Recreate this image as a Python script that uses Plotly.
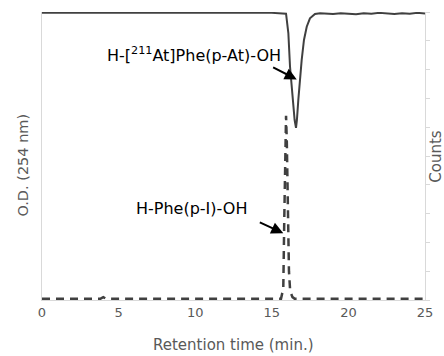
import plotly.graph_objects as go

# UV trace (O.D. 254 nm), normalised
uv_time = [0, 5, 10, 15, 15.93, 16.08, 16.19, 16.36, 16.49, 16.58, 16.64, 16.73, 16.84, 16.95,
           17.1, 17.28, 17.49, 17.82, 18.15, 18.5, 19, 19.5, 20, 20.5, 21, 21.5, 22, 22.5,
           23, 23.5, 24, 24.5, 25]
uv_od = [0.997, 0.997, 0.997, 0.997, 0.994, 0.927, 0.81, 0.694, 0.625, 0.598, 0.625, 0.694,
         0.775, 0.833, 0.903, 0.949, 0.978, 0.993, 0.996, 0.995, 0.993, 0.996, 0.994, 0.992,
         0.996, 0.994, 0.997, 0.995, 0.993, 0.996, 0.994, 0.997, 0.995]

# Radio trace (counts)
rad_time = [0, 3.8, 4.0, 4.2, 15.6, 15.75, 15.82, 15.88, 15.93, 15.98, 16.05, 16.12, 16.2,
            16.35, 16.5, 25]
rad_counts = [0.04, 0.04, 0.1, 0.04, 0.04, 0.4, 3.0, 5.6, 6.4, 5.5, 3.0, 1.0, 0.3, 0.1,
              0.04, 0.04]

x_ticks = [0, 5, 10, 15, 20, 25]

label_at = "H-[<sup>211</sup>At]Phe(p-At)-OH"
label_i = "H-Phe(p-I)-OH"

FONT = "DejaVu Sans"
GRAY = "#595959"
AXIS = "#d9d9d9"
LINE = "#404040"

fig = go.Figure()
fig.add_trace(go.Scatter(x=uv_time, y=uv_od, mode="lines",
                         line=dict(color=LINE, width=2), yaxis="y", showlegend=False))
fig.add_trace(go.Scatter(x=rad_time, y=rad_counts, mode="lines",
                         line=dict(color=LINE, width=2.5, dash="8px,6px"),
                         yaxis="y2", showlegend=False))

fig.update_layout(
    width=444, height=356,
    margin=dict(l=42, r=19, t=12, b=56),
    paper_bgcolor="white", plot_bgcolor="white",
    font=dict(family=FONT, color=GRAY, size=13),
    xaxis=dict(range=[0, 25], tickvals=x_ticks, ticks="", showgrid=False, zeroline=False,
               showline=True, linecolor=AXIS, linewidth=1,
               tickfont=dict(size=13, color=GRAY)),
    yaxis=dict(range=[0, 1], showticklabels=False, ticks="", showgrid=False, zeroline=False,
               showline=True, linecolor=AXIS, linewidth=1),
    yaxis2=dict(range=[0, 10], overlaying="y", side="right", dtick=1, showticklabels=False,
                ticks="outside", ticklen=4, tickcolor=AXIS, showgrid=False, zeroline=False,
                showline=True, linecolor=AXIS, linewidth=1),
)

annots = [
    dict(text="Retention time (min.)", xref="paper", yref="paper", x=0.5, y=-0.156,
         xanchor="center", yanchor="middle",
         showarrow=False, font=dict(size=15, color=GRAY, family=FONT)),
    dict(text="O.D. (254 nm)", xref="paper", yref="paper", x=-0.052, y=0.467,
         xanchor="center", yanchor="middle",
         textangle=-90, showarrow=False, font=dict(size=14.5, color=GRAY, family=FONT)),
    dict(text="Counts", xref="paper", yref="paper", x=1.028, y=0.5,
         xanchor="center", yanchor="middle",
         textangle=-90, showarrow=False, font=dict(size=15, color=GRAY, family=FONT)),
    dict(text=label_at, x=9.95, y=0.854, xref="x", yref="y", showarrow=False,
         xanchor="center", yanchor="middle",
         font=dict(size=16, color="black", family=FONT)),
    dict(text=label_i, x=9.76, y=0.319, xref="x", yref="y", showarrow=False,
         xanchor="center", yanchor="middle",
         font=dict(size=16, color="black", family=FONT)),
    dict(text="", x=16.63, y=0.766, ax=14.99, ay=0.81, xref="x", yref="y",
         axref="x", ayref="y", showarrow=True, arrowhead=2, arrowsize=1.2,
         arrowwidth=2, arrowcolor="black", standoff=0),
    dict(text="", x=15.75, y=0.232, ax=14.12, ay=0.272, xref="x", yref="y",
         axref="x", ayref="y", showarrow=True, arrowhead=2, arrowsize=1.2,
         arrowwidth=2, arrowcolor="black", standoff=0),
]
fig.update_layout(annotations=annots)

fig.write_html("out.html", config={"displayModeBar": False},
               post_script="document.body.style.margin='0';document.body.style.overflow='hidden';")
